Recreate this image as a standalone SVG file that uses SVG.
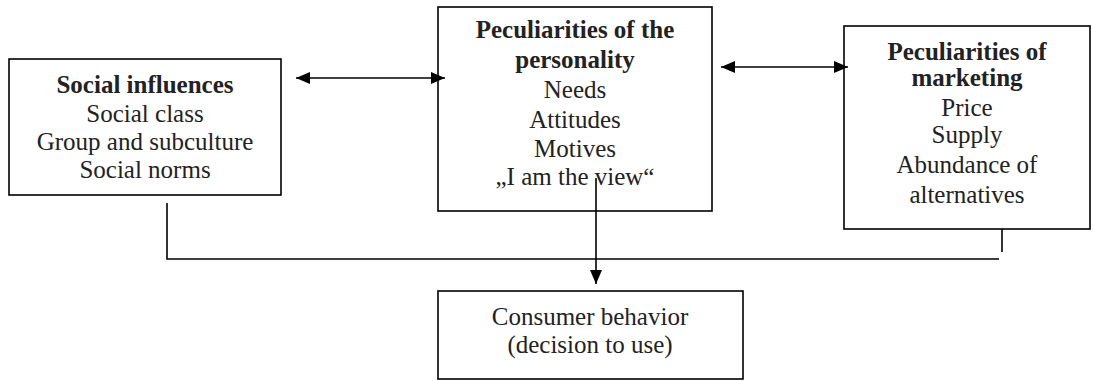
<svg xmlns="http://www.w3.org/2000/svg" width="1093" height="381" viewBox="0 0 1093 381">
<style>
.box{fill:#fff;stroke:#000;stroke-width:1.6}
.t{font-family:"Liberation Serif","Times New Roman",serif;font-size:25px;fill:#222;text-anchor:middle}
.b{font-weight:bold}
.ln{fill:none;stroke:#000;stroke-width:1.6}
</style>
<defs>
<marker id="ah" viewBox="0 0 14 12" refX="14" refY="6" markerWidth="14" markerHeight="12" markerUnits="userSpaceOnUse" orient="auto-start-reverse">
<path d="M0,0 L14,6 L0,12 Z" fill="#000"/>
</marker>
</defs>
<g id="social">
<rect class="box" x="9" y="59" width="272" height="136"/>
<text class="t b" x="145" y="93">Social influences</text>
<text class="t" x="145" y="122">Social class</text>
<text class="t" x="145" y="150">Group and subculture</text>
<text class="t" x="145" y="178">Social norms</text>
</g>
<g id="personality">
<rect class="box" x="438" y="7" width="274" height="204"/>
<text class="t b" x="575" y="38">Peculiarities of the</text>
<text class="t b" x="575" y="68">personality</text>
<text class="t" x="575" y="98">Needs</text>
<text class="t" x="575" y="128">Attitudes</text>
<text class="t" x="575" y="157">Motives</text>
<text class="t" x="575" y="185">„I am the view“</text>
</g>
<g id="marketing">
<rect class="box" x="844" y="26" width="246" height="203"/>
<text class="t b" x="967" y="60">Peculiarities of</text>
<text class="t b" x="967" y="86">marketing</text>
<text class="t" x="967" y="116">Price</text>
<text class="t" x="967" y="143">Supply</text>
<text class="t" x="967" y="173">Abundance of</text>
<text class="t" x="967" y="203">alternatives</text>
</g>
<g id="consumer">
<rect class="box" x="438" y="291" width="305" height="88"/>
<text class="t" x="590" y="325">Consumer behavior</text>
<text class="t" x="590" y="353">(decision to use)</text>
</g>
<g id="connectors">
<line class="ln" x1="296" y1="78" x2="445" y2="78" marker-start="url(#ah)" marker-end="url(#ah)"/>
<line class="ln" x1="721" y1="67" x2="848" y2="67" marker-start="url(#ah)" marker-end="url(#ah)"/>
<polyline class="ln" points="167,203 167,259 999,259"/>
<line class="ln" x1="1002" y1="229" x2="1002" y2="252"/>
<line class="ln" x1="596" y1="178" x2="596" y2="284" marker-end="url(#ah)"/>
</g>
</svg>
